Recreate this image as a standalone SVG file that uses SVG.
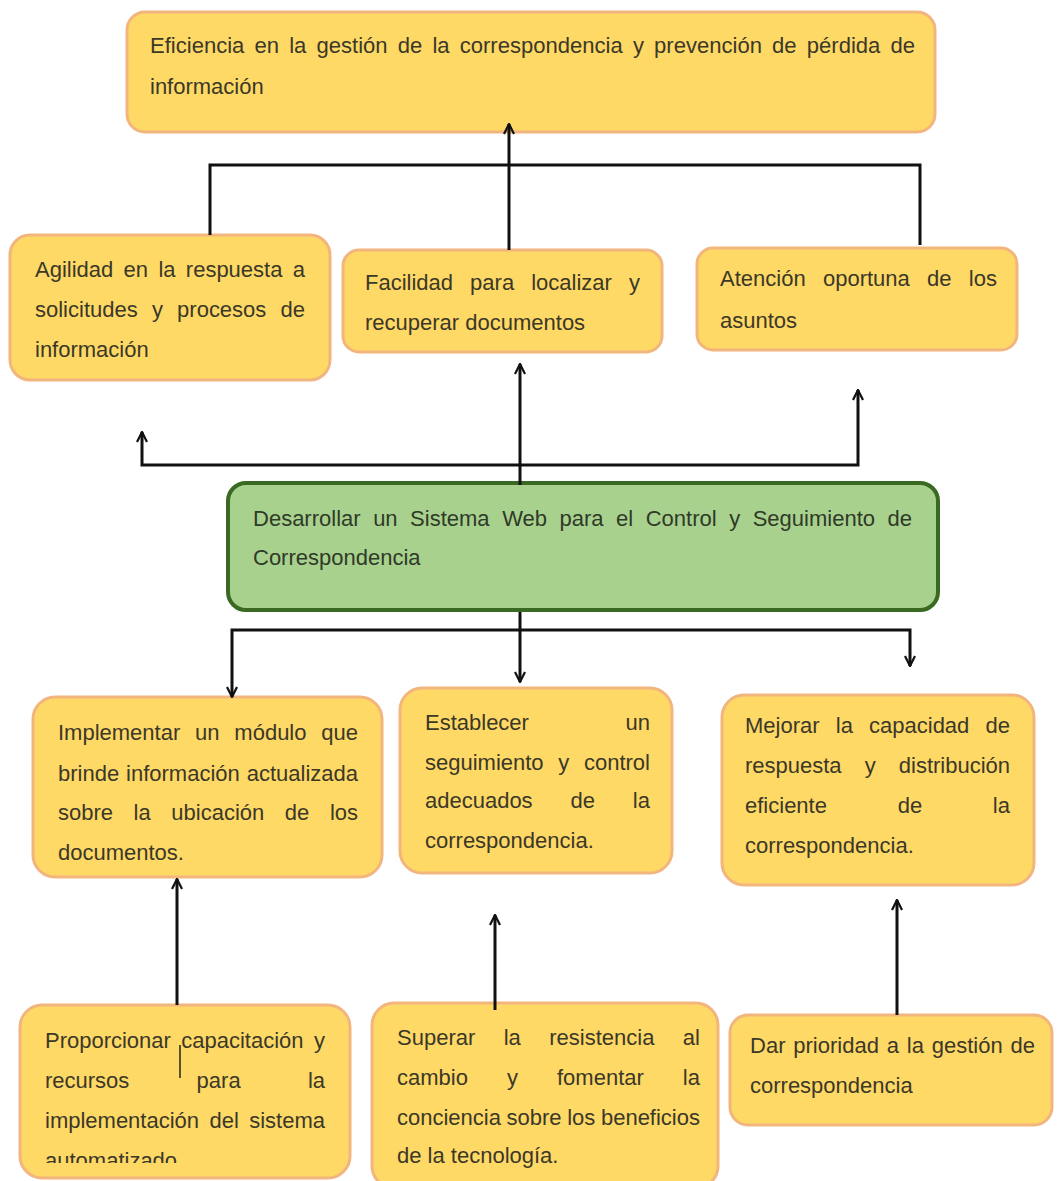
<svg xmlns="http://www.w3.org/2000/svg" width="1059" height="1181" viewBox="0 0 1059 1181">
  <style>
    .box { fill: #FFD966; stroke: #F2B57E; stroke-width: 3; }
    .main { fill: #A9D18E; stroke: #3A6A22; stroke-width: 4; }
    text { font-family: "Liberation Sans", Arial, sans-serif; font-size: 22px; fill: #3b3828; }
    .main-t { fill: #2f3a28; }
    .wire { fill: none; stroke: #111; stroke-width: 3; }
    .thin { fill: none; stroke: #222; stroke-width: 1.5; }
  </style>
  <defs>
    <marker id="arrow" viewBox="0 0 12 12" refX="11" refY="6" markerWidth="12" markerHeight="12" markerUnits="userSpaceOnUse" orient="auto-start-reverse">
      <path d="M1,1 L11,6 L1,11" fill="none" stroke="#111" stroke-width="2.2"/>
    </marker>
    <clipPath id="cut-bottom">
      <rect x="0" y="0" width="1059" height="1163"/>
    </clipPath>
  </defs>
  <rect width="1059" height="1181" fill="#ffffff"/>

  <!-- Final effect -->
  <g id="efecto-final">
    <rect class="box" x="127" y="12" width="808" height="120" rx="18"/>
    <text x="150" y="53" word-spacing="4" textLength="765" lengthAdjust="spacingAndGlyphs">Eficiencia en la gestión de la correspondencia y prevención de pérdida de</text>
    <text x="150" y="94">información</text>
  </g>

  <!-- Effects -->
  <g id="efecto-agilidad">
    <rect class="box" x="10" y="235" width="320" height="145" rx="20"/>
    <text x="35" y="277" word-spacing="4.2" textLength="270" lengthAdjust="spacingAndGlyphs">Agilidad en la respuesta a</text>
    <text x="35" y="317" word-spacing="8.1" textLength="270" lengthAdjust="spacingAndGlyphs">solicitudes y procesos de</text>
    <text x="35" y="357">información</text>
  </g>
  <g id="efecto-facilidad">
    <rect class="box" x="343" y="250" width="319" height="102" rx="16"/>
    <text x="365" y="290" word-spacing="11" textLength="275" lengthAdjust="spacingAndGlyphs">Facilidad para localizar y</text>
    <text x="365" y="330">recuperar documentos</text>
  </g>
  <g id="efecto-atencion">
    <rect class="box" x="697" y="248" width="320" height="102" rx="16"/>
    <text x="720" y="286" word-spacing="11.2" textLength="277" lengthAdjust="spacingAndGlyphs">Atención oportuna de los</text>
    <text x="720" y="328">asuntos</text>
  </g>

  <!-- Central objective -->
  <g id="objetivo-general">
    <rect class="main" x="228" y="483" width="710" height="127" rx="18"/>
    <text class="main-t" x="253" y="526" word-spacing="6.4" textLength="659" lengthAdjust="spacingAndGlyphs">Desarrollar un Sistema Web para el Control y Seguimiento de</text>
    <text class="main-t" x="253" y="565">Correspondencia</text>
  </g>

  <!-- Specific objectives -->
  <g id="objetivo-modulo">
    <rect class="box" x="33" y="697" width="349" height="180" rx="22"/>
    <text x="58" y="740" word-spacing="8.7" textLength="300" lengthAdjust="spacingAndGlyphs">Implementar un módulo que</text>
    <text x="58" y="781" word-spacing="0.8" textLength="300" lengthAdjust="spacingAndGlyphs">brinde información actualizada</text>
    <text x="58" y="820" word-spacing="14.5" textLength="300" lengthAdjust="spacingAndGlyphs">sobre la ubicación de los</text>
    <text x="58" y="860">documentos.</text>
  </g>
  <g id="objetivo-seguimiento">
    <rect class="box" x="400" y="688" width="272" height="185" rx="22"/>
    <text x="425" y="730" word-spacing="90.5" textLength="225" lengthAdjust="spacingAndGlyphs">Establecer un</text>
    <text x="425" y="770" word-spacing="8.6" textLength="225" lengthAdjust="spacingAndGlyphs">seguimiento y control</text>
    <text x="425" y="808" word-spacing="31.8" textLength="225" lengthAdjust="spacingAndGlyphs">adecuados de la</text>
    <text x="425" y="848">correspondencia.</text>
  </g>
  <g id="objetivo-respuesta">
    <rect class="box" x="722" y="695" width="312" height="190" rx="22"/>
    <text x="745" y="733" word-spacing="10.1" textLength="265" lengthAdjust="spacingAndGlyphs">Mejorar la capacidad de</text>
    <text x="745" y="773" word-spacing="17" textLength="265" lengthAdjust="spacingAndGlyphs">respuesta y distribución</text>
    <text x="745" y="813" word-spacing="64.6" textLength="265" lengthAdjust="spacingAndGlyphs">eficiente de la</text>
    <text x="745" y="853">correspondencia.</text>
  </g>

  <!-- Causes / actions -->
  <g id="accion-capacitacion">
    <rect class="box" x="20" y="1005" width="330" height="173" rx="22"/>
    <text x="45" y="1048" word-spacing="4.4" textLength="280" lengthAdjust="spacingAndGlyphs">Proporcionar capacitación y</text>
    <text x="45" y="1088" word-spacing="61.2" textLength="280" lengthAdjust="spacingAndGlyphs">recursos para la</text>
    <text x="45" y="1128" word-spacing="4.3" textLength="280" lengthAdjust="spacingAndGlyphs">implementación del sistema</text>
    <text x="45" y="1168" clip-path="url(#cut-bottom)">automatizado</text>
  </g>
  <g id="accion-resistencia">
    <rect class="box" x="372" y="1003" width="346" height="185" rx="22"/>
    <text x="397" y="1045" word-spacing="22.3" textLength="303" lengthAdjust="spacingAndGlyphs">Superar la resistencia al</text>
    <text x="397" y="1085" word-spacing="32.9" textLength="303" lengthAdjust="spacingAndGlyphs">cambio y fomentar la</text>
    <text x="397" y="1125" word-spacing="-0.5" textLength="303" lengthAdjust="spacingAndGlyphs">conciencia sobre los beneficios</text>
    <text x="397" y="1163">de la tecnología.</text>
  </g>
  <g id="accion-prioridad">
    <rect class="box" x="730" y="1015" width="322" height="110" rx="18"/>
    <text x="750" y="1053" word-spacing="1.7" textLength="285" lengthAdjust="spacingAndGlyphs">Dar prioridad a la gestión de</text>
    <text x="750" y="1093">correspondencia</text>
  </g>

  <!-- Connectors -->
  <g id="conectores">
    <path class="wire" d="M210,235 V165 H920 V245"/>
    <path class="wire" d="M509,250 V124" marker-end="url(#arrow)"/>
    <path class="wire" d="M142,432 V465 H858 V390" marker-start="url(#arrow)" marker-end="url(#arrow)"/>
    <path class="wire" d="M520,485 V364" marker-end="url(#arrow)"/>
    <path class="wire" d="M232,697 V630 H910 V666" marker-start="url(#arrow)" marker-end="url(#arrow)"/>
    <path class="wire" d="M520,612 V682" marker-end="url(#arrow)"/>
    <path class="wire" d="M177,1005 V879" marker-end="url(#arrow)"/>
    <path class="wire" d="M495,1010 V915" marker-end="url(#arrow)"/>
    <path class="wire" d="M897,1015 V900" marker-end="url(#arrow)"/>
    <path class="thin" d="M180,1045 V1078"/>
  </g>
</svg>
